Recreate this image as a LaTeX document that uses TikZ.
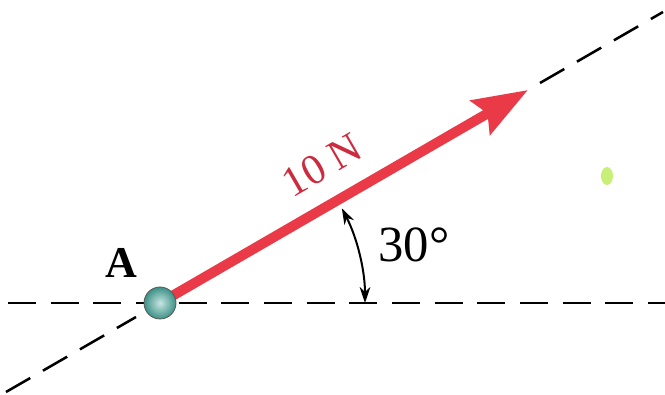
\documentclass[tikz,border=0pt]{standalone}
\usepackage{fontspec}
\setmainfont{Liberation Serif}
\usetikzlibrary{arrows.meta}

\definecolor{forcered}{RGB}{234,58,72}
\definecolor{labelred}{RGB}{205,42,62}
\definecolor{ballteal}{RGB}{70,170,158}
\definecolor{smudge}{RGB}{200,240,120}

\tikzset{every picture/.style={line width=0.75pt}}
\tikzset{
  refline/.style={line width=1.9pt, dash pattern={on 21pt off 11pt}},
  force/.style={draw=forcered, line width=7.5pt, -{Stealth[length=41pt,width=29pt,inset=6pt]}},
  anglemark/.style={line width=1.5pt, {Stealth[length=12pt,width=8pt]}-{Stealth[length=12pt,width=8pt]}},
  ballnode/.style={circle, minimum size=24pt, inner sep=0pt, draw=black!65, line width=0.6pt,
    inner color=ballteal!30!white, outer color=ballteal!85!black}
}

\begin{document}
\begin{tikzpicture}[x=0.75pt,y=0.75pt,yscale=-1,xscale=1]
\useasboundingbox (0,0) rectangle (665,395);

\coordinate (A) at (160,303);
\coordinate (hL) at (8,303);
\coordinate (hR) at (665,303);
\coordinate (lowL) at (6,392);
\coordinate (lowR) at (136,317);
\coordinate (upL) at (540,83);
\coordinate (upR) at (663,12);
\coordinate (tip) at (528,90);
\coordinate (arcS) at (365,303);

%Straight Lines [horizontal]
\draw [refline] (hL) -- (hR) ;
%Straight Lines [incline, lower part]
\draw [refline] (lowL) -- (lowR) ;
%Straight Lines [incline, upper part]
\draw [refline] (upL) -- (upR) ;

%Arrow [force]
\draw [force] (A) -- (tip) ;

%Shape: Circle [particle]
\node [ballnode] (ball) at (A) {};

%Arc [angle]
\draw [anglemark] (arcS) arc [start angle=0, end angle=-27.5, radius=205] ;

%Shape: smudge
\fill [smudge] (607,176) ellipse [x radius=6, y radius=9] ;

% Text Node
\draw (121,263) node (lblA) {\fontsize{33}{36}\selectfont\textbf{A}};
% Text Node
\draw (322,165) node [rotate=30, text=labelred, inner sep=0pt] (lblF) {\fontsize{32}{36}\selectfont 10 N};
% Text Node
\draw (414,245) node (lblAng) {\fontsize{38}{42}\selectfont 30°};

\end{tikzpicture}
\end{document}
